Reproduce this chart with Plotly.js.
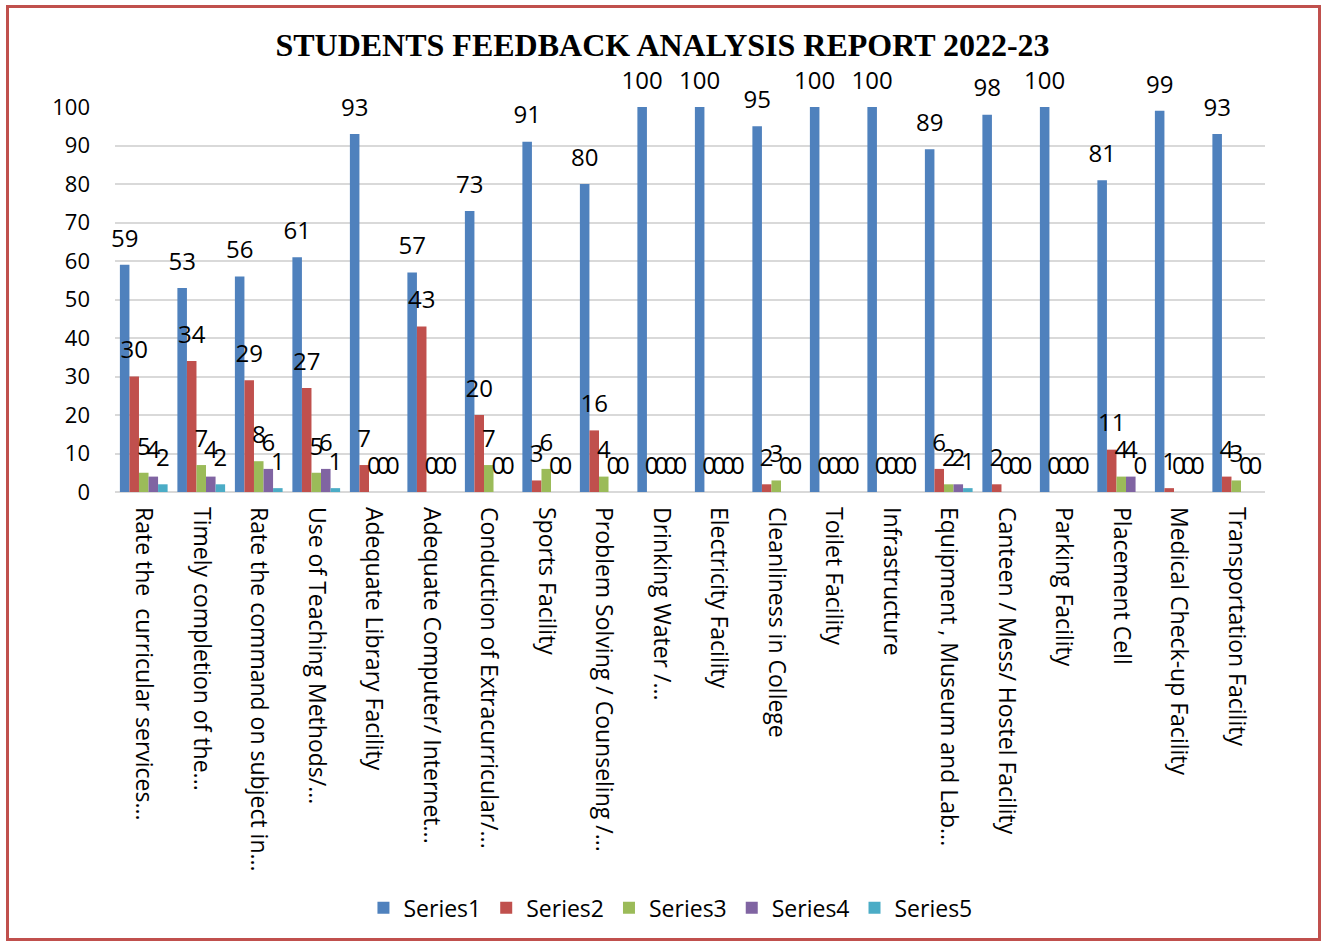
<!DOCTYPE html>
<html><head><meta charset="utf-8">
<script src="https://cdn.plot.ly/plotly-3.0.1.min.js"></script>
<style>
body{margin:0;padding:0;background:#fff;}
#wrap{position:relative;width:1325px;height:945px;}
#chart{width:1325px;height:945px;}
#frame{position:absolute;left:6px;top:5px;width:1309px;height:930px;border:3px solid #c0504d;pointer-events:none;}
</style></head>
<body>
<div id="wrap"><div id="chart"></div><div id="frame"></div></div>
<script>
const categories = [
 "Rate the  curricular services...",
 "Timely completion of the...",
 "Rate the command on subject in...",
 "Use of Teaching Methods/...",
 "Adequate Library Facility",
 "Adequate Computer/ Internet...",
 "Conduction of Extracurricular/...",
 "Sports Facility",
 "Problem Solving / Counseling /...",
 "Drinking Water /...",
 "Electricity Facility",
 "Cleanliness in College",
 "Toilet Facility",
 "Infrastructure",
 "Equipment , Museum and Lab...",
 "Canteen / Mess/ Hostel Facility",
 "Parking Facility",
 "Placement Cell",
 "Medical Check-up Facility",
 "Transportation Facility"
];
const series1 = [59,53,56,61,93,57,73,91,80,100,100,95,100,100,89,98,100,81,99,93];
const series2 = [30,34,29,27,7,43,20,3,16,0,0,2,0,0,6,2,0,11,1,4];
const series3 = [5,7,8,5,0,0,7,6,4,0,0,3,0,0,2,0,0,4,0,3];
const series4 = [4,4,6,6,0,0,0,0,0,0,0,0,0,0,2,0,0,4,0,0];
const series5 = [2,2,1,1,0,0,0,0,0,0,0,0,0,0,1,0,0,0,0,0];
const seriesNames = ["Series1","Series2","Series3","Series4","Series5"];
const colors = ["#4f81bd","#c0504d","#9bbb59","#8064a2","#4bacc6"];
const allSeries = [series1,series2,series3,series4,series5];

const bars = allSeries.map((s,i)=>({
  type:'bar', name:seriesNames[i], x:categories, y:s,
  marker:{color:colors[i], line:{width:0}}
}));
const labels = allSeries.map((s,i)=>({
  type:'scatter', mode:'markers+text', name:seriesNames[i]+' labels', showlegend:false,
  x:categories, y:s, text:s.map(String), textposition:'top center', cliponaxis:false,
  marker:{size:18, color:'rgba(0,0,0,0)'},
  textfont:{family:'Open Sans, sans-serif', size:24, color:'#000'}
}));

const layout = {
  width:1325, height:945,
  paper_bgcolor:'#fff', plot_bgcolor:'#fff',
  margin:{l:115, r:60, t:107, b:453},
  title:{text:'<b>STUDENTS FEEDBACK ANALYSIS REPORT 2022-23</b>', x:0.5, xanchor:'center', y:0.953, yanchor:'middle',
    font:{family:'Liberation Serif, Times New Roman, serif', size:32, color:'#000'}},
  barmode:'group', bargap:0.17, bargroupgap:0,
  scattermode:'group', scattergap:0.17,
  showlegend:true,
  legend:{orientation:'h', x:0.483, xanchor:'center', y:-1.08, yanchor:'middle',
    font:{family:'Open Sans, sans-serif', size:23, color:'#000'}},
  xaxis:{tickangle:90, tickfont:{family:'Open Sans, sans-serif', size:23, color:'#000'},
    showgrid:false, showline:false, ticks:'', automargin:false, ticklabelstandoff:14},
  yaxis:{range:[0,100], dtick:10, tickfont:{family:'Open Sans, sans-serif', size:22, color:'#000'},
    showgrid:true, gridcolor:'#d9d9d9', gridwidth:2, zeroline:true, zerolinecolor:'#d9d9d9', zerolinewidth:2,
    showline:false, ticks:'', ticklabelstandoff:24, automargin:false}
};
Plotly.newPlot('chart', bars.concat(labels), layout, {displayModeBar:false, staticPlot:true});
</script>
</body></html>
